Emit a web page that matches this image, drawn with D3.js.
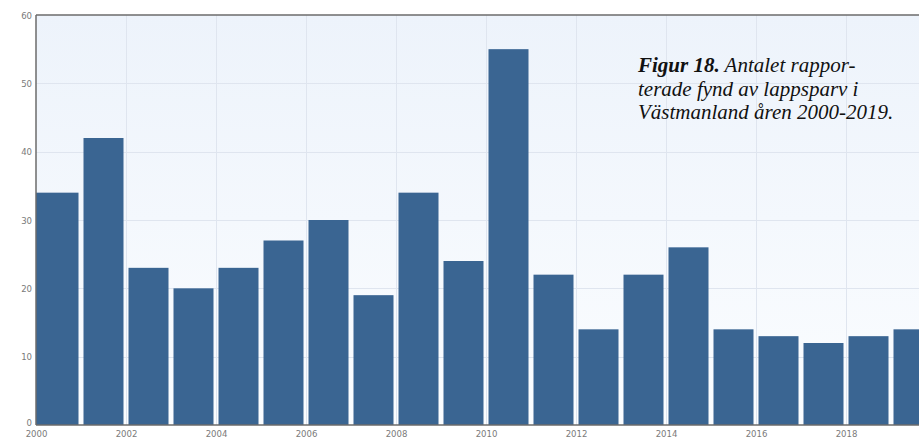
<!DOCTYPE html>
<html>
<head>
<meta charset="utf-8">
<script src="https://cdn.jsdelivr.net/npm/d3@7"></script>
<style>
  body { margin: 0; background: #fff; }
  svg { display: block; }
</style>
</head>
<body>
<div id="chart"></div>
<script>
// data
const years = [2000, 2001, 2002, 2003, 2004, 2005, 2006, 2007, 2008, 2009,
               2010, 2011, 2012, 2013, 2014, 2015, 2016, 2017, 2018, 2019];
const counts = [34, 42, 23, 20, 23, 27, 30, 19, 34, 24,
                55, 22, 14, 22, 26, 14, 13, 12, 13, 14];
const yTicks = [0, 10, 20, 30, 40, 50, 60];
const xTicks = [2000, 2002, 2004, 2006, 2008, 2010, 2012, 2014, 2016, 2018];
const captionLines = [
    [["Figur 18.", true], [" Antalet rappor-", false]],
    [["terade fynd av lappsparv i", false]],
    [["Västmanland åren 2000-2019.", false]]
];

const width = 919, height = 446;
const margin = { top: 15, left: 36, bottom: 21 };
const barColor = "#3a6592";
const gridColor = "#dfe5ef";
const tickColor = "#7a7a7a";

const svg = d3.select("#chart").append("svg")
    .attr("width", width)
    .attr("height", height);

const defs = svg.append("defs");
const grad = defs.append("linearGradient")
    .attr("id", "bg").attr("x1", 0).attr("y1", 0).attr("x2", 0).attr("y2", 1);
grad.append("stop").attr("offset", "0%").attr("stop-color", "#edf3fb");
grad.append("stop").attr("offset", "100%").attr("stop-color", "#fbfdff");

// x: one unit per year, 2000 at the left axis
const x = d3.scaleLinear()
    .domain([2000, 2020])
    .range([margin.left, margin.left + 900]);

const y = d3.scaleLinear()
    .domain([0, 60])
    .range([height - margin.bottom, margin.top]);

// plot background
svg.append("rect")
    .attr("x", x(2000))
    .attr("y", y(60))
    .attr("width", width - x(2000))
    .attr("height", y(0) - y(60))
    .attr("fill", "url(#bg)");

// grid
svg.append("g")
    .selectAll("line.h")
    .data(yTicks.filter(d => d > 0 && d < 60))
    .join("line")
    .attr("x1", x(2000)).attr("x2", width)
    .attr("y1", d => Math.round(y(d)) + 0.5)
    .attr("y2", d => Math.round(y(d)) + 0.5)
    .attr("stroke", gridColor);

svg.append("g")
    .selectAll("line.v")
    .data(xTicks.filter(d => d > 2000))
    .join("line")
    .attr("x1", d => Math.round(x(d)) + 0.5)
    .attr("x2", d => Math.round(x(d)) + 0.5)
    .attr("y1", y(60)).attr("y2", y(0))
    .attr("stroke", gridColor);

// bars
const pad = 2.5;
svg.append("g")
    .selectAll("rect.bar")
    .data(years.map((yr, i) => ({ year: yr, value: counts[i] })))
    .join("rect")
    .attr("class", "bar")
    .attr("x", d => x(d.year) + (d.year === 2000 ? 0 : pad))
    .attr("width", d => x(d.year + 1) - x(d.year) - pad - (d.year === 2000 ? 0 : pad))
    .attr("y", d => y(d.value))
    .attr("height", d => y(0) - y(d.value))
    .attr("fill", barColor);

// frame lines (left, top, bottom)
const frame = svg.append("g").attr("stroke", "#6b6b6b").attr("stroke-width", 1.5);
frame.append("line")
    .attr("x1", x(2000)).attr("x2", x(2000))
    .attr("y1", y(60)).attr("y2", y(0));
frame.append("line")
    .attr("x1", x(2000)).attr("x2", width)
    .attr("y1", y(60)).attr("y2", y(60));
frame.append("line")
    .attr("x1", x(2000)).attr("x2", width)
    .attr("y1", y(0)).attr("y2", y(0));

// axes
const yAxis = svg.append("g")
    .attr("transform", `translate(${x(2000)},0)`)
    .call(d3.axisLeft(y).tickValues(yTicks).tickSize(0).tickPadding(4));
yAxis.select(".domain").remove();
yAxis.selectAll("text")
    .attr("fill", tickColor)
    .style("font-family", "'DejaVu Sans Condensed', 'DejaVu Sans', sans-serif")
    .style("font-size", "9.5px");
// the 0 label sits a little higher, clear of the year labels
yAxis.selectAll(".tick").filter(d => d === 0).select("text").attr("dy", "0.1em");

const xAxis = svg.append("g")
    .attr("transform", `translate(0,${y(0)})`)
    .call(d3.axisBottom(x).tickValues(xTicks).tickFormat(d3.format("d")).tickSize(0).tickPadding(5));
xAxis.select(".domain").remove();
xAxis.selectAll("text")
    .attr("fill", tickColor)
    .style("font-family", "'DejaVu Sans Condensed', 'DejaVu Sans', sans-serif")
    .style("font-size", "9.5px");

// caption
const caption = svg.append("text")
    .attr("x", 638)
    .attr("y", 72)
    .style("font-family", "'Liberation Serif', 'Times New Roman', serif")
    .style("font-style", "italic")
    .style("font-size", "21px")
    .attr("fill", "#111");

captionLines.forEach((parts, i) => {
    parts.forEach((p, j) => {
        const t = caption.append("tspan").text(p[0]);
        if (j === 0) t.attr("x", 638).attr("dy", i === 0 ? 0 : 23.5);
        if (p[1]) t.style("font-weight", "bold");
    });
});
</script>
</body>
</html>
